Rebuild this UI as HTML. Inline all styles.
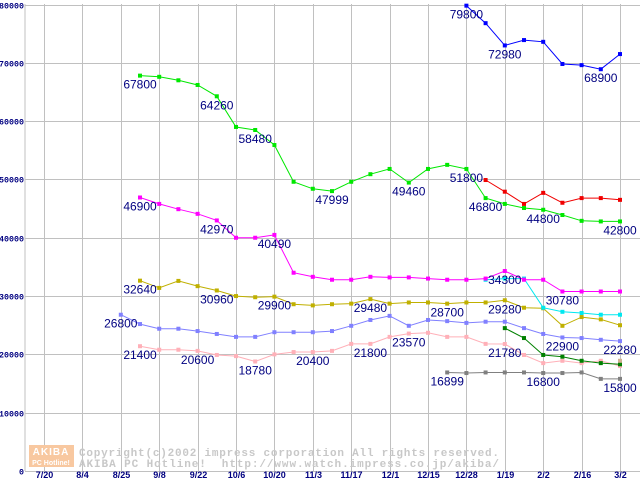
<!DOCTYPE html>
<html><head><meta charset="utf-8"><style>
html,body{margin:0;padding:0;background:#fff;}
svg{display:block;}
</style></head><body>
<svg id="chart" width="640" height="480" xmlns="http://www.w3.org/2000/svg" font-family="Liberation Sans, sans-serif">
<g id="grid"></g>
<g id="axes"></g>
<g>
<rect x="29" y="445" width="45" height="22" fill="#f8c8a0"/>
<text x="51" y="455" text-anchor="middle" font-size="10" font-weight="bold" fill="#fff" letter-spacing="1">AKIBA</text>
<text x="51" y="465" text-anchor="middle" font-size="7" font-weight="bold" fill="#fff">PC Hotline!</text>
<text x="79" y="456" font-family="Liberation Mono, monospace" font-size="11" font-weight="bold" fill="#c8c8c8" textLength="420">Copyright(c)2002 impress corporation All rights reserved.</text>
<text x="79" y="467" font-family="Liberation Mono, monospace" font-size="11" font-weight="bold" fill="#c8c8c8" textLength="420" xml:space="preserve">AKIBA PC Hotline!  http://www.watch.impress.co.jp/akiba/</text>
</g>
<g id="series"></g>
<g id="labels"></g>
</svg>
<script>
const xTickLabels = ["7/20","8/4","8/25","9/8","9/22","10/6","10/20","11/3","11/17","12/1","12/15","12/28","1/19","2/2","2/16","3/2"];
const yTicks = [0,10000,20000,30000,40000,50000,60000,70000,80000];
const greenStart = 5;
const greenVals = [67800,67600,67000,66200,64260,59000,58480,55900,49600,48400,47999,49600,50900,51800,49460,51800,52500,51800,46800,45800,45100,44800,43900,42900,42800,42800];
const blueStart = 22;
const blueVals = [79800,76800,72980,73900,73600,69800,69600,68900,71500];
const redStart = 23;
const redVals = [49900,47900,45800,47700,46000,46800,46800,46500];
const magentaStart = 5;
const magentaVals = [46900,45800,44900,44100,42970,40000,40000,40490,34000,33300,32800,32800,33300,33200,33200,33000,32800,32800,33000,34300,32800,32800,30780,30780,30780,30780];
const cyanStart = 23;
const cyanVals = [32800,33000,33000,28000,27300,27100,26800,26800];
const oliveStart = 5;
const oliveVals = [32640,31400,32600,31700,30960,30000,29800,29900,28600,28400,28600,28700,29480,28700,28900,28900,28700,28900,28900,29280,28000,27900,24900,26400,26000,25000];
const periStart = 4;
const periVals = [26800,25200,24400,24400,24000,23500,23000,23000,23800,23800,23800,24000,24900,25900,26600,24900,25900,25700,25400,25600,25600,24500,23500,22900,22800,22500,22280];
const pinkStart = 5;
const pinkVals = [21400,20800,20800,20600,19900,19700,18780,20000,20400,20400,20600,21800,21800,23000,23570,23700,23000,23000,21800,21780,19900,18500,18900,18500,18900,18000];
const dgreenStart = 24;
const dgreenVals = [24500,22800,19900,19600,18900,18500,18300];
const grayStart = 21;
const grayVals = [16899,16800,16900,16900,16900,16800,16800,16900,15800,15800];
const tanStart = 30;
const tanVals = [18900];

const seriesList = [
 {name:"series-pink",start:pinkStart,vals:pinkVals,color:"#ffb0b8",labels:[0,3,6,9,12,14,19]},
 {name:"series-periwinkle",start:periStart,vals:periVals,color:"#8080ff",labels:[0,23,26]},
 {name:"series-olive",start:oliveStart,vals:oliveVals,color:"#c0b000",labels:[0,4,7,12,16,19]},
 {name:"series-cyan",start:cyanStart,vals:cyanVals,color:"#00e8f0",labels:[]},
 {name:"series-magenta",start:magentaStart,vals:magentaVals,color:"#ff00ff",labels:[0,4,7,19,22]},
 {name:"series-red",start:redStart,vals:redVals,color:"#f00000",labels:[]},
 {name:"series-green",start:greenStart,vals:greenVals,color:"#00e800",labels:[0,4,6,10,14,17,18,21,25]},
 {name:"series-blue",start:blueStart,vals:blueVals,color:"#0000ff",labels:[0,2,7]},
 {name:"series-dark-green",start:dgreenStart,vals:dgreenVals,color:"#008000",labels:[]},
 {name:"series-gray",start:grayStart,vals:grayVals,color:"#808080",labels:[0,5,9]},
 {name:"series-tan",start:tanStart,vals:tanVals,color:"#d0b090",labels:[]}
];

const NS="http://www.w3.org/2000/svg";
function xScale(i){return 44+i*19.2;}
function yScale(v){return 471-v*(466.5/80000);}
function mk(tag,attrs,parent){const e=document.createElementNS(NS,tag);for(const k in attrs)e.setAttribute(k,attrs[k]);parent.appendChild(e);return e;}
const grid=document.getElementById('grid'),axes=document.getElementById('axes'),sg=document.getElementById('series'),lg=document.getElementById('labels');

let l=mk('line',{x1:25,y1:4,x2:25,y2:471,stroke:'#c0c0c0','stroke-width':1},grid);


yTicks.forEach(v=>{
 const y=Math.round(yScale(v))+0.5;
 const g=mk('line',{x1:25,y1:y,x2:640,y2:y,stroke:'#c0c0c0','stroke-width':1},grid);
 
 
 const s=String(v);
 const t=mk('text',{x:24-s.length*5,y:y+3,'font-size':8,'font-weight':'bold',fill:'#000080','font-family':'Liberation Mono, monospace',textLength:s.length*5,lengthAdjust:'spacingAndGlyphs'},axes);
 t.textContent=s;
 
 
});
xTickLabels.forEach((s,k)=>{
 const x=Math.round(xScale(k*2))+0.5;
 const g=mk('line',{x1:x,y1:4,x2:x,y2:471,stroke:'#c0c0c0','stroke-width':1},grid);
 
 
 const t=mk('text',{x:x,y:478,'text-anchor':'middle','font-size':9,'font-weight':'bold',fill:'#000080'},axes);
 t.textContent=s;
 
 
});

seriesList.forEach(s=>{
 const g=mk('g',{},sg);
 
 
 const pts=s.vals.map((v,j)=>xScale(s.start+j).toFixed(1)+','+yScale(v).toFixed(1)).join(' ');
 if(s.vals.length>1){
  const p=mk('polyline',{points:pts,fill:'none',stroke:s.color,'stroke-width':1},g);
  
  
 }
 s.vals.forEach((v,j)=>{
  const r=mk('rect',{x:xScale(s.start+j)-2,y:yScale(v)-2,width:4,height:4,fill:s.color},g);
  
  
 });
 s.labels.forEach(j=>{
  const t=mk('text',{x:xScale(s.start+j),y:yScale(s.vals[j])+13,'text-anchor':'middle','font-size':12,fill:'#000080'},lg);
  t.textContent=s.vals[j];
  
  
 });
});
</script>
</body></html>
